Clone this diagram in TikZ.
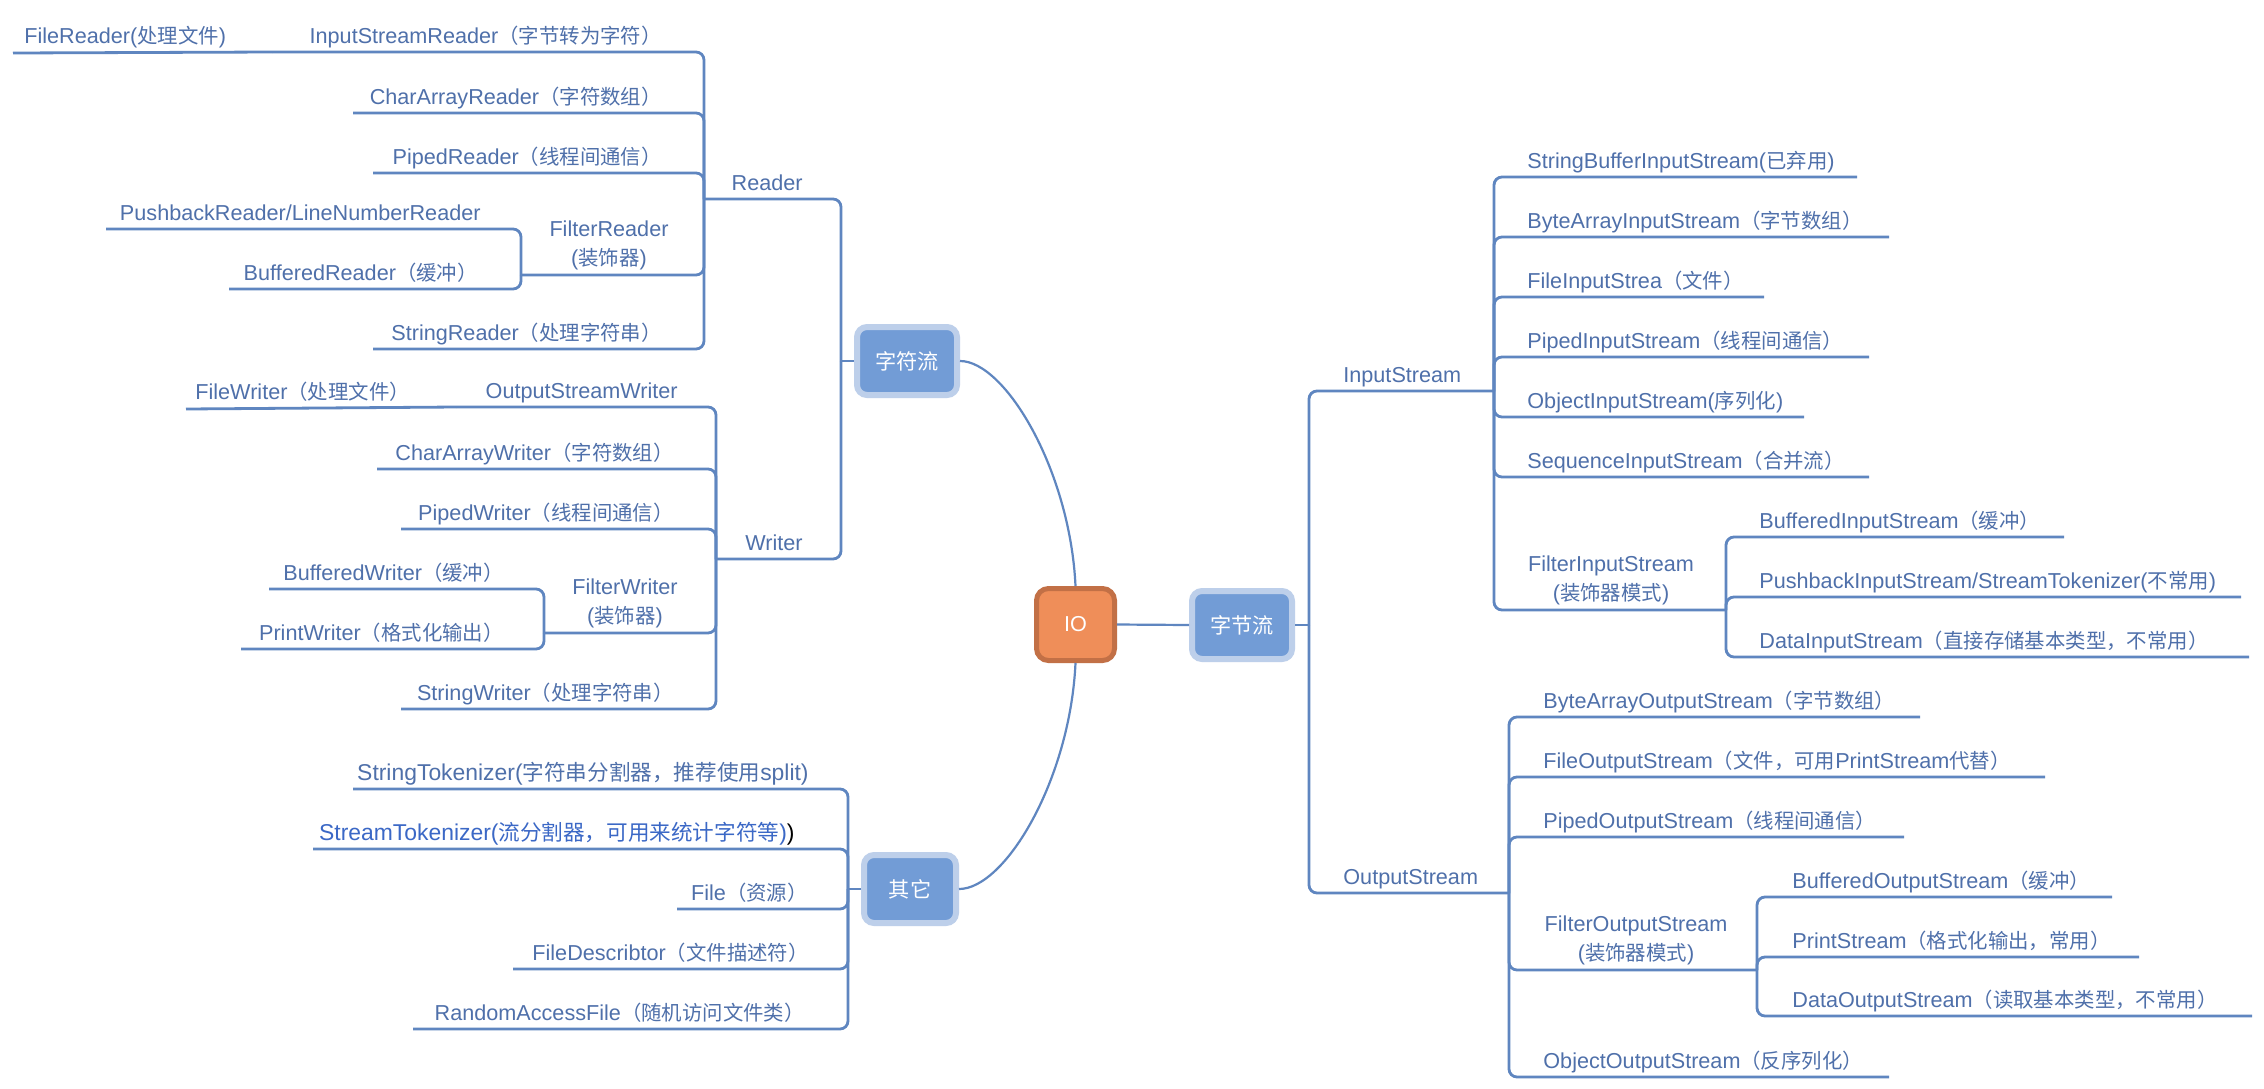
\documentclass[tikz,border=0pt]{standalone}
\usepackage{fontspec}
\setmainfont{Liberation Sans}[Scale=1.06]
\newfontfamily\cjk{Noto Sans CJK SC}
\newcommand\zht[1]{{\cjk #1}}
\definecolor{linec}{HTML}{5F86C0}
\definecolor{txtc}{HTML}{4F70AA}
\definecolor{txtb}{HTML}{3B68C6}
\definecolor{bfill}{HTML}{729CD6}
\definecolor{bedge}{HTML}{BDCFEA}
\definecolor{ofill}{HTML}{EF8E59}
\definecolor{oedge}{HTML}{C27046}
\tikzset{
  lbl/.style={text=txtc, inner sep=0pt, font=\fontsize{10.2}{14.5}\selectfont},
  L/.style={lbl, anchor=base east},
  R/.style={lbl, anchor=base west},
  F/.style={lbl, anchor=south, align=center},
  conn/.style={draw=linec, line width=1.4pt, rounded corners=4pt},
  mainc/.style={draw=linec, line width=1.1pt},
  topic/.style={draw=bedge, fill=bfill, line width=3pt, rounded corners=5pt,
    minimum width=50pt, minimum height=34pt, inner sep=0pt, text=white,
    font=\cjk\fontsize{10.6}{12}\selectfont},
  iobox/.style={draw=oedge, fill=ofill, line width=2.5pt, rounded corners=6pt,
    minimum width=39pt, minimum height=36pt, inner sep=0pt, text=white,
    font=\fontsize{10.2}{12}\selectfont},
}
\newcommand\Lc[6]{\coordinate (#1e) at (#4,#3);\node[L] (#1) at (#2,#3-9) {#6};\draw[conn] (#5) |- (#1e);}
\newcommand\Rc[6]{\coordinate (#1e) at (#4,#3);\node[R] (#1) at (#2,#3-9) {#6};\draw[conn] (#5) |- (#1e);}
\newcommand\Fc[6]{\coordinate (#1e) at (#4,#3);\node[F] (#1) at (#2,#3-5) {#6};\draw[conn] (#5) |- (#1e);}
\begin{document}
\begin{tikzpicture}[x=0.5pt,y=-0.5pt]
\useasboundingbox (0,0) rectangle (2264,1088);
\fill[white] (0,0) rectangle (2264,1088);

% central topics
\node[iobox] (IO) at (1075.5,624.5) {IO};
\node[topic] (zfl) at (907,361) {字符流};
\node[topic] (zjl) at (1242,625) {字节流};
\node[topic, minimum width=46pt] (qt) at (910,889) {其它};
\draw[mainc] (zfl.east) .. controls (1005,361) and (1070,470) .. (IO.north);
\draw[mainc] (IO.south) .. controls (1070,780) and (1005,889) .. (qt.east);
\draw[mainc] (IO.east) -- (zjl.west);

% ===== character streams =====
\coordinate (jC) at (841,361);
\coordinate (jR) at (704,199);
\coordinate (jW) at (716,559);
\draw[conn] (zfl.west) -- (jC);
\draw[conn] (jC) |- (jR);
\draw[conn] (jC) |- (jW);
\node[L] (reader) at (803,190) {Reader};
\node[L] (writer) at (803,550) {Writer};

\Lc{isr}{662}{52}{272}{jR}{InputStreamReader\zht{（字节转为字符）}}
\coordinate (fre) at (13,53);
\node[R] (fr) at (24,43) {FileReader(\zht{处理文件})};
\draw[conn] (isre) -- (fre);
\Lc{car}{662}{113}{353}{jR}{CharArrayReader\zht{（字符数组）}}
\Lc{pr}{662}{173}{373}{jR}{PipedReader\zht{（线程间通信）}}
\Fc{fir}{609}{275}{521}{jR}{FilterReader\\(\zht{装饰器})}
\coordinate (jFR) at (521,275);
\Lc{pbr}{481}{229}{106}{jFR}{PushbackReader/LineNumberReader}
\Lc{bfr}{478}{289}{229}{jFR}{BufferedReader\zht{（缓冲）}}
\Lc{sr}{662}{349}{373}{jR}{StringReader\zht{（处理字符串）}}

\Lc{osw}{678}{407}{456}{jW}{OutputStreamWriter}
\coordinate (fwe) at (186,409);
\node[R] (fw) at (195,399) {FileWriter\zht{（处理文件）}};
\draw[conn] (oswe) -- (fwe);
\Lc{caw}{674}{469}{377}{jW}{CharArrayWriter\zht{（字符数组）}}
\Lc{pw}{674}{529}{401}{jW}{PipedWriter\zht{（线程间通信）}}
\Fc{fiw}{625}{633}{544}{jW}{FilterWriter\\(\zht{装饰器})}
\coordinate (jFW) at (544,633);
\Lc{bfw}{504}{589}{269}{jFW}{BufferedWriter\zht{（缓冲）}}
\Lc{prw}{504}{649}{241}{jFW}{PrintWriter\zht{（格式化输出）}}
\Lc{sw}{674}{709}{401}{jW}{StringWriter\zht{（处理字符串）}}

% ===== others =====
\coordinate (jQ) at (848,889);
\draw[conn] (qt.west) -- (jQ);
\Lc{st}{809}{789}{353}{jQ}{{\fontsize{10.8}{14}\selectfont StringTokenizer(\zht{字符串分割器，推荐使用}split)}}
\Lc{stk}{795}{849}{313}{jQ}{{\fontsize{10.8}{14}\selectfont\color{txtb}StreamTokenizer(\zht{流分割器，可用来统计字符等})}{\fontsize{10.8}{14}\selectfont\color{black})}}
\Lc{file}{808}{909}{677}{jQ}{File\zht{（资源）}}
\Lc{fd}{809}{969}{513}{jQ}{FileDescribtor\zht{（文件描述符）}}
\Lc{raf}{805}{1029}{413}{jQ}{RandomAccessFile\zht{（随机访问文件类）}}

% ===== byte streams =====
\coordinate (jB) at (1309,625);
\coordinate (jI) at (1494,391);
\coordinate (jO) at (1509,893);
\draw[conn] (zjl.east) -- (jB);
\draw[conn] (jB) |- (jI);
\draw[conn] (jB) |- (jO);
\node[R] (is) at (1343,382) {InputStream};
\node[R] (os) at (1343,884) {OutputStream};

\Rc{sbis}{1527}{177}{1857}{jI}{StringBufferInputStream(\zht{已弃用})}
\Rc{bais}{1527}{237}{1889}{jI}{ByteArrayInputStream\zht{（字节数组）}}
\Rc{fis}{1527}{297}{1764}{jI}{FileInputStrea\zht{（文件）}}
\Rc{pis}{1527}{357}{1869}{jI}{PipedInputStream\zht{（线程间通信）}}
\Rc{ois}{1527}{417}{1804}{jI}{ObjectInputStream(\zht{序列化})}
\Rc{seqis}{1527}{477}{1869}{jI}{SequenceInputStream\zht{（合并流）}}
\Fc{fiis}{1611}{610}{1726}{jI}{FilterInputStream\\(\zht{装饰器模式})}
\coordinate (jFI) at (1726,610);
\Rc{bis}{1759}{537}{2064}{jFI}{BufferedInputStream\zht{（缓冲）}}
\Rc{pbis}{1759}{597}{2241}{jFI}{PushbackInputStream/StreamTokenizer(\zht{不常用})}
\Rc{dis}{1759}{657}{2249}{jFI}{DataInputStream\zht{（直接存储基本类型，不常用）}}

\Rc{baos}{1543}{717}{1920}{jO}{ByteArrayOutputStream\zht{（字节数组）}}
\Rc{fos}{1543}{777}{2045}{jO}{FileOutputStream\zht{（文件，可用}PrintStream\zht{代替）}}
\Rc{pos}{1543}{837}{1904}{jO}{PipedOutputStream\zht{（线程间通信）}}
\Fc{fios}{1636}{970}{1757}{jO}{FilterOutputStream\\(\zht{装饰器模式})}
\coordinate (jFO) at (1757,970);
\Rc{bos}{1792}{897}{2112}{jFO}{BufferedOutputStream\zht{（缓冲）}}
\Rc{ps}{1792}{957}{2139}{jFO}{PrintStream\zht{（格式化输出，常用）}}
\Rc{dos}{1792}{1016}{2252}{jFO}{DataOutputStream\zht{（读取基本类型，不常用）}}
\Rc{oos}{1543}{1077}{1889}{jO}{ObjectOutputStream\zht{（反序列化）}}
\end{tikzpicture}
\end{document}
